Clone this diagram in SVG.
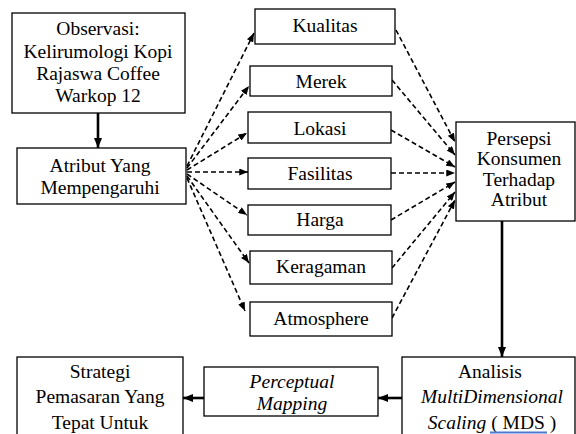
<svg xmlns="http://www.w3.org/2000/svg" width="576" height="434" viewBox="0 0 576 434">
<defs>
<marker id="ah" viewBox="0 0 10 8" refX="10" refY="4" markerWidth="9" markerHeight="7" markerUnits="userSpaceOnUse" orient="auto">
<path d="M0,0 L10,4 L0,8 z" fill="#000"/>
</marker>
<marker id="ahb" viewBox="0 0 10 8" refX="10" refY="4" markerWidth="10" markerHeight="9" markerUnits="userSpaceOnUse" orient="auto">
<path d="M0,0 L10,4 L0,8 z" fill="#000"/>
</marker>
</defs>
<rect width="576" height="434" fill="#fff"/>
<g id="connectors" fill="none" stroke="#000">
<g stroke-width="2.6" marker-end="url(#ahb)">
<line x1="98" y1="113" x2="98" y2="148"/>
<line x1="502" y1="221" x2="502" y2="357"/>
<line x1="402" y1="398" x2="378" y2="398"/>
<line x1="204" y1="398" x2="183" y2="398"/>
</g>
<g stroke-width="1.6" stroke-dasharray="5 3" marker-end="url(#ah)">
<line x1="187" y1="166" x2="254" y2="33"/>
<line x1="187" y1="168" x2="249" y2="86"/>
<line x1="187" y1="170" x2="247" y2="133"/>
<line x1="187" y1="172" x2="248" y2="172"/>
<line x1="187" y1="174" x2="247" y2="215"/>
<line x1="187" y1="176" x2="249" y2="263"/>
<line x1="187" y1="178" x2="245" y2="311"/>
<line x1="396" y1="30" x2="455" y2="142"/>
<line x1="392" y1="80" x2="455" y2="155"/>
<line x1="391" y1="130" x2="455" y2="167"/>
<line x1="391" y1="173" x2="455" y2="173"/>
<line x1="391" y1="220" x2="455" y2="182"/>
<line x1="392" y1="268" x2="455" y2="192"/>
<line x1="392" y1="318" x2="455" y2="200"/>
</g>
</g>
<g id="observasi">
<rect x="12" y="13" width="173" height="100" fill="#fff" stroke="#000" stroke-width="1.3"/>
<text x="98" y="35" font-family="Times New Roman, serif" font-size="19.5" text-anchor="middle">Observasi:</text>
<text x="98" y="58" font-family="Times New Roman, serif" font-size="19.5" text-anchor="middle">Kelirumologi Kopi</text>
<text x="98" y="80" font-family="Times New Roman, serif" font-size="19.5" text-anchor="middle">Rajaswa Coffee</text>
<text x="98" y="102" font-family="Times New Roman, serif" font-size="19.5" text-anchor="middle">Warkop 12</text>
</g>
<g id="atribut">
<rect x="17" y="148" width="169" height="56" fill="#fff" stroke="#000" stroke-width="1.3"/>
<text x="100" y="172" font-family="Times New Roman, serif" font-size="19.5" text-anchor="middle">Atribut Yang</text>
<text x="100" y="194" font-family="Times New Roman, serif" font-size="19.5" text-anchor="middle">Mempengaruhi</text>
</g>
<g id="kualitas">
<rect x="255" y="9" width="140" height="35" fill="#fff" stroke="#000" stroke-width="1.3"/>
<text x="325" y="32" font-family="Times New Roman, serif" font-size="19.5" text-anchor="middle">Kualitas</text>
</g>
<g id="merek">
<rect x="250" y="66" width="142" height="30" fill="#fff" stroke="#000" stroke-width="1.3"/>
<text x="321" y="88" font-family="Times New Roman, serif" font-size="19.5" text-anchor="middle">Merek</text>
</g>
<g id="lokasi">
<rect x="248" y="112" width="143" height="31" fill="#fff" stroke="#000" stroke-width="1.3"/>
<text x="320" y="135" font-family="Times New Roman, serif" font-size="19.5" text-anchor="middle">Lokasi</text>
</g>
<g id="fasilitas">
<rect x="248" y="158" width="143" height="31" fill="#fff" stroke="#000" stroke-width="1.3"/>
<text x="320" y="180" font-family="Times New Roman, serif" font-size="19.5" text-anchor="middle">Fasilitas</text>
</g>
<g id="harga">
<rect x="248" y="205" width="143" height="30" fill="#fff" stroke="#000" stroke-width="1.3"/>
<text x="320" y="226" font-family="Times New Roman, serif" font-size="19.5" text-anchor="middle">Harga</text>
</g>
<g id="keragaman">
<rect x="250" y="251" width="142" height="33" fill="#fff" stroke="#000" stroke-width="1.3"/>
<text x="321" y="273" font-family="Times New Roman, serif" font-size="19.5" text-anchor="middle">Keragaman</text>
</g>
<g id="atmosphere">
<rect x="250" y="302" width="142" height="34" fill="#fff" stroke="#000" stroke-width="1.3"/>
<text x="321" y="325" font-family="Times New Roman, serif" font-size="19.5" text-anchor="middle">Atmosphere</text>
</g>
<g id="persepsi">
<rect x="456" y="122" width="119" height="99" fill="#fff" stroke="#000" stroke-width="1.3"/>
<text x="519" y="145" font-family="Times New Roman, serif" font-size="19.5" text-anchor="middle">Persepsi</text>
<text x="519" y="165" font-family="Times New Roman, serif" font-size="19.5" text-anchor="middle">Konsumen</text>
<text x="519" y="186" font-family="Times New Roman, serif" font-size="19.5" text-anchor="middle">Terhadap</text>
<text x="519" y="206" font-family="Times New Roman, serif" font-size="19.5" text-anchor="middle">Atribut</text>
</g>
<g id="analisis">
<rect x="402" y="357" width="173" height="90" fill="#fff" stroke="#000" stroke-width="1.3"/>
<text x="490" y="378" font-family="Times New Roman, serif" font-size="19.5" text-anchor="middle">Analisis</text>
<text x="492" y="403" font-family="Times New Roman, serif" font-size="19.5" font-style="italic" text-anchor="middle">MultiDimensional</text>
<text x="492" y="429" font-family="Times New Roman, serif" font-size="19.5" text-anchor="middle"><tspan font-style="italic">Scaling</tspan> ( MDS )</text>
<line x1="490" y1="432.5" x2="547" y2="432.5" stroke="#4a7bd0" stroke-width="1.8"/>
</g>
<g id="perceptual">
<rect x="204" y="367" width="174" height="49" fill="#fff" stroke="#000" stroke-width="1.3"/>
<text x="292" y="388" font-family="Times New Roman, serif" font-size="19.5" font-style="italic" text-anchor="middle">Perceptual</text>
<text x="292" y="410" font-family="Times New Roman, serif" font-size="19.5" font-style="italic" text-anchor="middle">Mapping</text>
</g>
<g id="strategi">
<rect x="17" y="357" width="166" height="90" fill="#fff" stroke="#000" stroke-width="1.3"/>
<text x="100" y="378" font-family="Times New Roman, serif" font-size="19.5" text-anchor="middle">Strategi</text>
<text x="100" y="403" font-family="Times New Roman, serif" font-size="19.5" text-anchor="middle">Pemasaran Yang</text>
<text x="100" y="429" font-family="Times New Roman, serif" font-size="19.5" text-anchor="middle">Tepat Untuk</text>
</g>
</svg>
